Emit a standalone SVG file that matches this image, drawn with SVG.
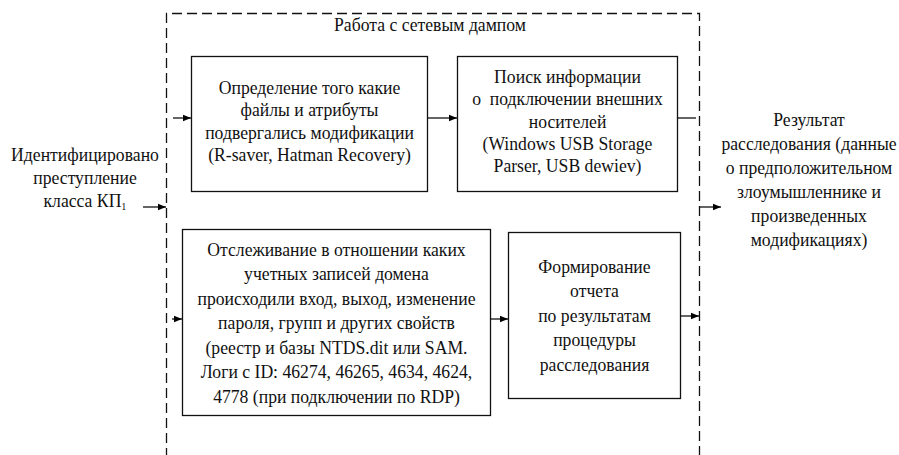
<svg xmlns="http://www.w3.org/2000/svg" width="899" height="455" viewBox="0 0 899 455">
  <defs>
    <marker id="arrow" viewBox="0 0 10 10" refX="10" refY="5" markerWidth="8" markerHeight="8" markerUnits="userSpaceOnUse" orient="auto">
      <path d="M0,1 L10,5 L0,9 Z" fill="#000"/>
    </marker>
    <style>
      text { font-family: "Liberation Serif", "Times New Roman", serif; font-size: 19px; fill: #111; text-anchor: middle; }
      .box { fill: #fff; stroke: #111; stroke-width: 1.3; }
      .frame { fill: none; stroke: #111; stroke-width: 1.3; stroke-dasharray: 10 5; }
      .link { fill: none; stroke: #111; stroke-width: 1.3; }
      .arr { marker-end: url(#arrow); }
    </style>
  </defs>

  <rect width="899" height="455" fill="#fff"/>

  <!-- dashed frame around the dump-analysis stage, open at the bottom -->
  <g id="stage">
    <path class="frame" d="M166.5,458 L166.5,13.5 L699.5,13.5 L699.5,458"/>
    <g transform="matrix(0.93,0,0,1,430,0)">
      <text x="0" y="31">Работа с сетевым дампом</text>
    </g>
  </g>

  <g id="input">
    <g transform="matrix(0.93,0,0,1,85,0)">
      <text x="0" y="161">Идентифицировано</text>
      <text x="0" y="184">преступление</text>
      <text x="0" y="207">класса КП<tspan font-size="11" dy="3">1</tspan></text>
    </g>
  </g>

  <g id="files">
    <rect class="box" x="191.5" y="56.5" width="236" height="135"/>
    <g transform="matrix(0.93,0,0,1,309.5,0)">
      <text x="0" y="94">Определение того какие</text>
      <text x="0" y="116.3">файлы и атрибуты</text>
      <text x="0" y="138.6">подвергались модификации</text>
      <text x="0" y="161">(R-saver, Hatman Recovery)</text>
    </g>
  </g>

  <g id="usb">
    <rect class="box" x="457.5" y="56.5" width="220" height="135"/>
    <g transform="matrix(0.93,0,0,1,567.5,0)">
      <text x="0" y="83">Поиск информации</text>
      <text x="0" y="105.3" xml:space="preserve">о  подключении внешних</text>
      <text x="0" y="127.6">носителей</text>
      <text x="0" y="150">(Windows USB Storage</text>
      <text x="0" y="172.3">Parser, USB dewiev)</text>
    </g>
  </g>

  <g id="accounts">
    <rect class="box" x="182.5" y="229.5" width="308" height="186"/>
    <g transform="matrix(0.93,0,0,1,336.5,0)">
      <text x="0" y="256">Отслеживание в отношении каких</text>
      <text x="0" y="280.5">учетных записей домена</text>
      <text x="0" y="305">происходили вход, выход, изменение</text>
      <text x="0" y="329.5">пароля, групп и других свойств</text>
      <text x="0" y="354">(реестр и базы NTDS.dit или SAM.</text>
      <text x="0" y="378.5">Логи с ID: 46274, 46265, 4634, 4624,</text>
      <text x="0" y="403">4778 (при подключении по RDP)</text>
    </g>
  </g>

  <g id="report">
    <rect class="box" x="508.5" y="232.5" width="172" height="166"/>
    <g transform="matrix(0.93,0,0,1,594.5,0)">
      <text x="0" y="273">Формирование</text>
      <text x="0" y="297.5">отчета</text>
      <text x="0" y="322">по результатам</text>
      <text x="0" y="346.5">процедуры</text>
      <text x="0" y="371">расследования</text>
    </g>
  </g>

  <g id="result">
    <g transform="matrix(0.93,0,0,1,809,0)">
      <text x="0" y="126">Результат</text>
      <text x="0" y="150">расследования (данные</text>
      <text x="0" y="174">о предположительном</text>
      <text x="0" y="198">злоумышленнике и</text>
      <text x="0" y="222">произведенных</text>
      <text x="0" y="246">модификациях)</text>
    </g>
  </g>

  <g id="connectors">
    <line class="link arr" x1="143" y1="207" x2="166" y2="207"/>
    <line class="link arr" x1="173" y1="118" x2="191" y2="118"/>
    <line class="link arr" x1="427.5" y1="118" x2="457" y2="118"/>
    <line class="link" x1="677.5" y1="118" x2="696" y2="118"/>
    <line class="link arr" x1="700" y1="207" x2="721" y2="207"/>
    <line class="link arr" x1="172" y1="319" x2="182" y2="319"/>
    <line class="link arr" x1="490.5" y1="319" x2="508" y2="319"/>
    <line class="link arr" x1="680.5" y1="316" x2="699" y2="316"/>
  </g>
</svg>
